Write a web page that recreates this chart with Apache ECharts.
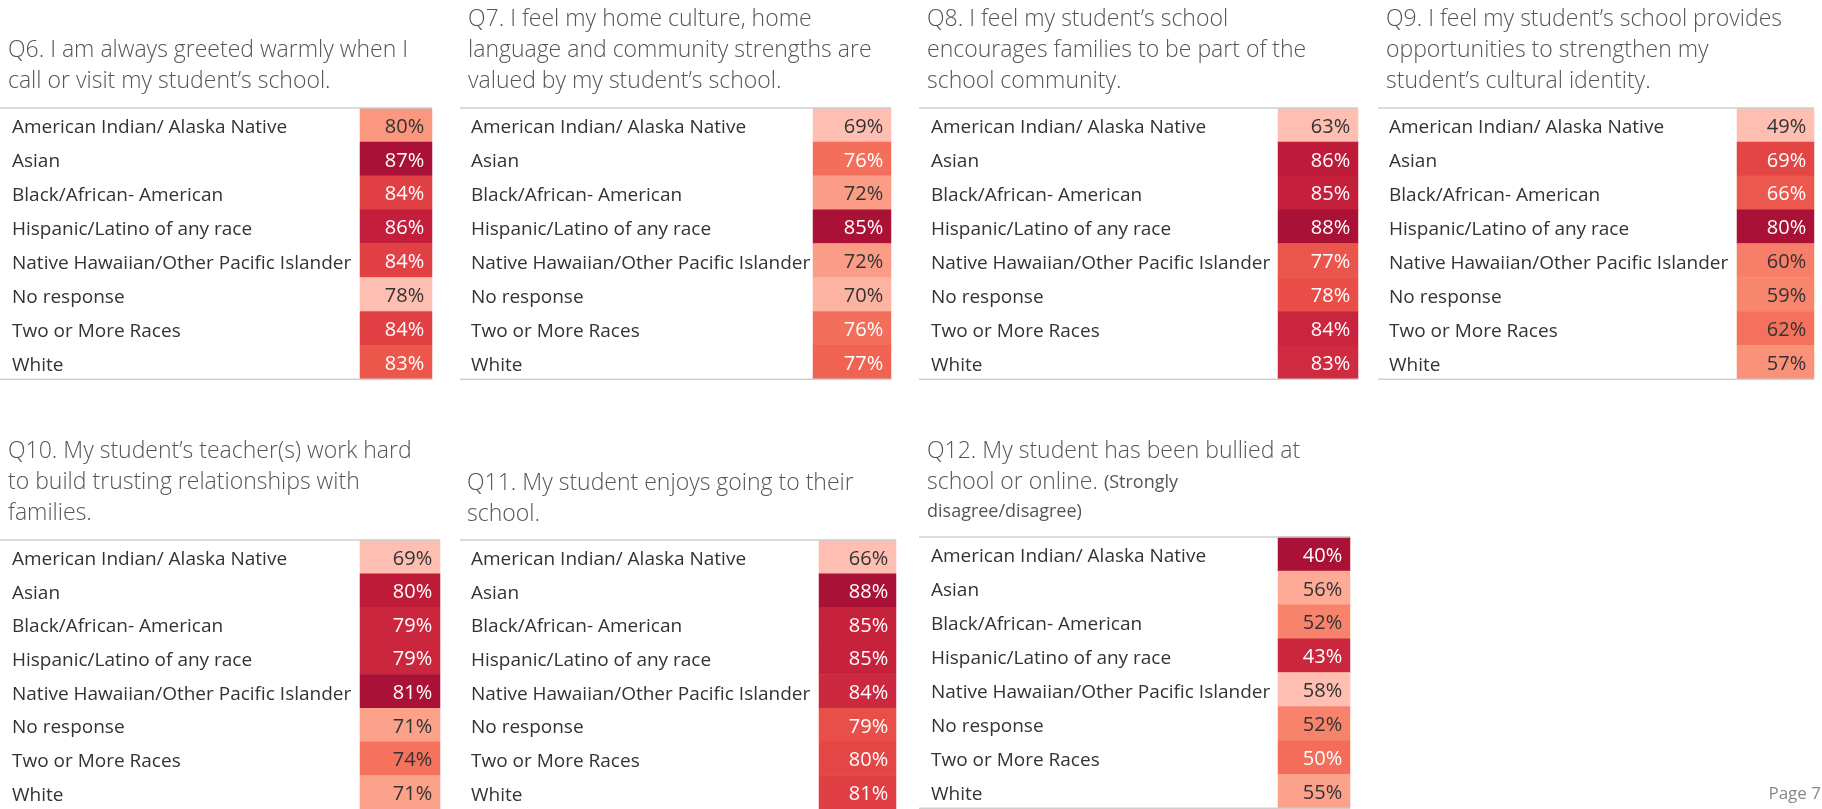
<!DOCTYPE html>
<html><head><meta charset="utf-8">
<script src="https://cdn.jsdelivr.net/npm/echarts@6/dist/echarts.min.js"></script>
<style>html,body{margin:0;padding:0;background:#fff}#c{width:1822px;height:809px}</style>
</head><body><div id="c"></div>
<script>
// ---------- data ----------
const categories = [
  'American Indian/ Alaska Native',
  'Asian',
  'Black/African- American',
  'Hispanic/Latino of any race',
  'Native Hawaiian/Other Pacific Islander',
  'No response',
  'Two or More Races',
  'White'
];
const q6  = [80, 87, 84, 86, 84, 78, 84, 83];
const q7  = [69, 76, 72, 85, 72, 70, 76, 77];
const q8  = [63, 86, 85, 88, 77, 78, 84, 83];
const q9  = [49, 69, 66, 80, 60, 59, 62, 57];
const q10 = [69, 80, 79, 79, 81, 71, 74, 71];
const q11 = [66, 88, 85, 85, 84, 79, 80, 81];
const q12 = [40, 56, 52, 43, 58, 52, 50, 55];

const titleQ6  = 'Q6. I am always greeted warmly when I\ncall or visit my student\u2019s school.';
const titleQ7  = 'Q7. I feel my home culture, home\nlanguage and community strengths are\nvalued by my student\u2019s school.';
const titleQ8  = 'Q8. I feel my student\u2019s school\nencourages families to be part of the\nschool community.';
const titleQ9  = 'Q9. I feel my student\u2019s school provides\nopportunities to strengthen my\nstudent\u2019s cultural identity.';
const titleQ10 = 'Q10. My student\u2019s teacher(s) work hard\nto build trusting relationships with\nfamilies.';
const titleQ11 = 'Q11. My student enjoys going to their\nschool.';
const titleQ12 = 'Q12. My student has been bullied at\nschool or online. {s|(Strongly}\n{s|disagree/disagree)}';
const pageLabel = 'Page 7';

// ---------- styling / layout ----------
const FONT = '"Open Sans", "Noto Sans", sans-serif';
const palette = ['#FEBEB1','#FDAC98','#FB9B83','#F98A72','#F57560','#F06352',
                 '#E84D48','#DD3B42','#CE2A40','#C21D3A','#AA1136'];
const ROW_H = 33.9;

const panels = [
  {values:q6,  title:titleQ6,  titleX:8,    titleTop:35,  lineL:0,    cellL:360,  cellR:432,  top:108, labelX:12},
  {values:q7,  title:titleQ7,  titleX:468,  titleTop:4,   lineL:460,  cellL:813,  cellR:891,  top:108, labelX:471},
  {values:q8,  title:titleQ8,  titleX:927,  titleTop:4,   lineL:919,  cellL:1278, cellR:1358, top:108, labelX:931},
  {values:q9,  title:titleQ9,  titleX:1386, titleTop:4,   lineL:1378, cellL:1737, cellR:1814, top:108, labelX:1389},
  {values:q10, title:titleQ10, titleX:8,    titleTop:436, lineL:0,    cellL:360,  cellR:440,  top:540, labelX:12},
  {values:q11, title:titleQ11, titleX:467,  titleTop:468, lineL:460,  cellL:819,  cellR:896,  top:540, labelX:471},
  {values:q12, title:titleQ12, titleX:927,  titleTop:436, lineL:919,  cellL:1278, cellR:1350, top:537, labelX:931, reverse:true}
];

const option = {
  backgroundColor:'#fff',
  animation:false,
  title:[], grid:[], xAxis:[], yAxis:[], series:[], visualMap:[], graphic:[]
};

panels.forEach((p, i) => {
  const mn = Math.min(...p.values), mx = Math.max(...p.values);
  const h = ROW_H * categories.length;
  option.title.push({
    text:p.title, left:p.titleX, top:p.titleTop, padding:0,
    textStyle:{fontFamily:FONT, fontSize:23, fontWeight:300, color:'#555', lineHeight:31,
      rich:{s:{fontFamily:FONT, fontSize:18, fontWeight:400, color:'#555', lineHeight:28}}}
  });
  option.grid.push({left:p.cellL, top:p.top, width:p.cellR - p.cellL, height:h, containLabel:false});
  option.xAxis.push({gridIndex:i, type:'category', data:['v'], show:false});
  option.yAxis.push({
    gridIndex:i, type:'category', data:categories, inverse:true,
    axisLine:{show:false}, axisTick:{show:false}, splitLine:{show:false},
    axisLabel:{align:'left', margin:p.cellL - p.labelX,
      formatter:(v) => '{a|' + v + '}',
      rich:{a:{fontFamily:FONT, fontSize:19, color:'#333', padding:[6,0,0,0]}}}
  });
  option.visualMap.push({
    type:'continuous', show:false, seriesIndex:i, dimension:2, min:mn, max:mx,
    inRange:{color: p.reverse ? palette.slice().reverse() : palette}
  });
  option.series.push({
    type:'heatmap', xAxisIndex:i, yAxisIndex:i,
    data:p.values.map((v, k) => {
      let t = (v - mn) / (mx - mn);
      if (p.reverse) t = 1 - t;
      return {value:[0, k, v], label:{color: t >= 0.425 ? '#fff' : '#333'}};
    }),
    itemStyle:{borderWidth:0},
    label:{show:true, position:'insideRight', distance:8, offset:[0,2], fontFamily:FONT, fontSize:20,
      formatter:(d) => d.value[2] + '%'},
    emphasis:{disabled:true}
  });
  [p.top, p.top + h].forEach(y => {
    option.graphic.push({type:'line', silent:true,
      shape:{x1:p.lineL, y1:y, x2:p.cellR, y2:y},
      style:{stroke:'#CFCFCF', lineWidth:1.5}, z:10});
  });
});

option.graphic.push({type:'text', right:1, top:786,
  style:{text:pageLabel, fontFamily:FONT, fontSize:17, fill:'#888'}});

const chart = echarts.init(document.getElementById('c'), null, {renderer:'canvas'});
chart.setOption(option);
</script>
</body></html>
